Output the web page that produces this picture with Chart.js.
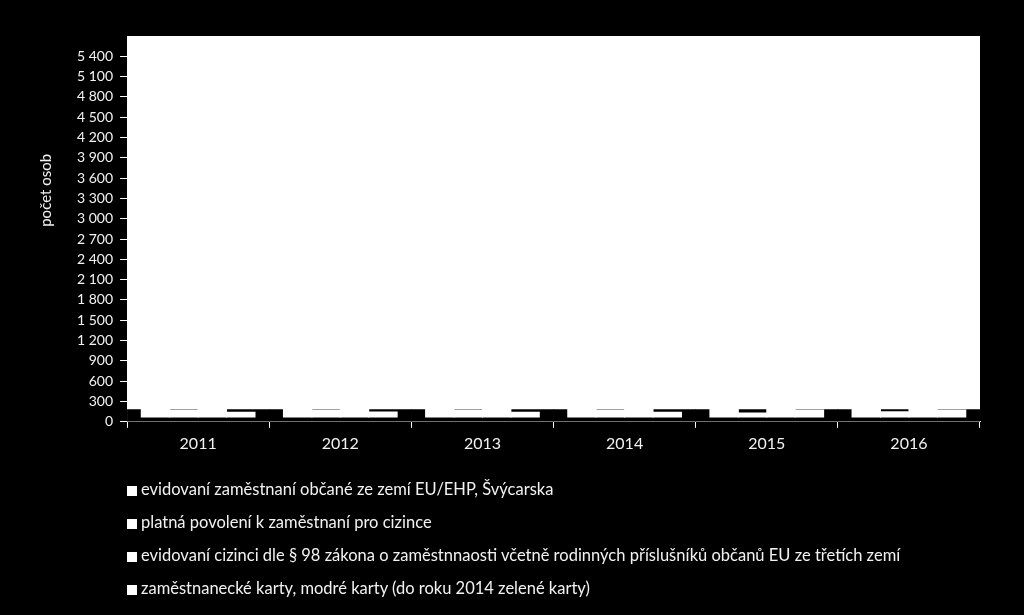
<!DOCTYPE html>
<html lang="cs">
<head>
<meta charset="utf-8">
<title>počet osob</title>
<script src="https://cdn.jsdelivr.net/npm/chart.js@4/dist/chart.umd.min.js"></script>
<style>
  html, body { margin: 0; padding: 0; background: #000; }
  #wrap { position: relative; width: 1024px; height: 615px; background: #000; overflow: hidden; }
  #wrap canvas { position: absolute; left: 0; top: 0; }
  #legend { position: absolute; left: 127px; top: 476px; margin: 0; padding: 0; list-style: none;
            font-family: Lato, "Open Sans", sans-serif; font-size: 16.5px; color: #f2f2f2; }
  #legend li { height: 33px; line-height: 26px; white-space: nowrap; }
  #legend span { display: inline-block; width: 10px; height: 10px; background: #fff; margin-right: 4px; vertical-align: -1px; }
</style>
</head>
<body>
<div id="wrap">
  <canvas id="chart" width="1024" height="615"></canvas>
  <ul id="legend"></ul>
</div>
<script>
// kategorie (roky)
const years = ['2011', '2012', '2013', '2014', '2015', '2016'];

// nazvy rad
const seriesNames = [
  'evidovaní zaměstnaní občané ze zemí EU/EHP, Švýcarska',
  'platná povolení k zaměstnaní pro cizince',
  'evidovaní cizinci dle § 98 zákona o zaměstnnaosti včetně rodinných příslušníků občanů EU ze třetích zemí',
  'zaměstnanecké karty, modré karty (do roku 2014 zelené karty)'
];

// hodnoty (spodni cast grafu)
const floorVals = [180, 180, 180, 180, 180, 180];
const barBase = [70, 70, 70, 70, 70, 70];
const euVals = [200, 200, 200, 200, 200, 200];
const permitVals = [176, 174, 176, 176, 130, 147];
const par98Vals = [200, 200, 200, 200, 200, 200];
const cardVals = [140, 143, 140, 140, 176, 176];

// osa y
const yMax = 5700;
const yStep = 300;
const yLastLabel = 5400;
const yTitle = 'počet osob';

function fmt(v) {
  return String(v).replace(/\B(?=(\d{3})+(?!\d))/g, ' ');
}

// bile pozadi plochy grafu + popisek osy y (v originale je posunuty nahoru)
const plotBg = {
  id: 'plotBg',
  beforeDraw(chart) {
    const a = chart.chartArea;
    const ctx = chart.ctx;
    ctx.save();
    ctx.fillStyle = '#fff';
    ctx.fillRect(a.left, a.top, a.right - a.left, a.bottom - a.top);
    ctx.restore();
  },
  afterDraw(chart) {
    const a = chart.chartArea;
    const ctx = chart.ctx;
    ctx.save();
    ctx.translate(46, a.top + (a.bottom - a.top) * 0.4);
    ctx.rotate(-Math.PI / 2);
    ctx.fillStyle = '#f2f2f2';
    ctx.font = '15px Lato, "Open Sans", sans-serif';
    ctx.textAlign = 'center';
    ctx.textBaseline = 'middle';
    ctx.fillText(yTitle, 0, 0);
    ctx.restore();
  }
};

const seriesVals = [euVals, permitVals, par98Vals, cardVals];

const datasets = seriesVals.map((vals, i) => ({
  label: seriesNames[i],
  data: vals.map((v, j) => [barBase[j], v]),
  backgroundColor: '#fff',
  borderWidth: 0,
  categoryPercentage: 0.8,
  barPercentage: 1,
  inflateAmount: 0.5,
  order: 0
}));

datasets.push({
  label: 'floor',
  data: floorVals,
  backgroundColor: '#000',
  borderWidth: 0,
  grouped: false,
  categoryPercentage: 1,
  barPercentage: 1,
  order: 10
});

Chart.defaults.font.family = 'Lato, "Open Sans", sans-serif';
Chart.defaults.color = '#f2f2f2';

new Chart(document.getElementById('chart'), {
  type: 'bar',
  data: { labels: years, datasets: datasets },
  options: {
    responsive: false,
    animation: false,
    devicePixelRatio: 1,
    layout: { padding: { left: 70, top: 36, right: 44, bottom: 156 } },
    plugins: {
      legend: { display: false },
      tooltip: { enabled: false }
    },
    scales: {
      x: {
        grid: { display: true, offset: true, drawOnChartArea: false, color: '#fff', tickLength: 6 },
        border: { display: true, color: '#fff', width: 1 },
        ticks: { color: '#f2f2f2', font: { size: 16 }, padding: 6 }
      },
      y: {
        min: 0,
        max: yMax,
        afterBuildTicks(scale) {
          scale.ticks = scale.ticks.filter(t => t.value <= yLastLabel);
        },
        grid: { display: true, drawOnChartArea: false, color: '#fff', tickLength: 7 },
        border: { display: true, color: '#fff', width: 1 },
        ticks: { stepSize: yStep, color: '#f2f2f2', font: { size: 14 }, padding: 7, callback: v => fmt(v) }
      }
    }
  },
  plugins: [plotBg]
});

// legenda pod grafem, kazda rada na vlastnim radku
const legend = document.getElementById('legend');
seriesNames.forEach(name => {
  const li = document.createElement('li');
  const box = document.createElement('span');
  li.appendChild(box);
  li.appendChild(document.createTextNode(name));
  legend.appendChild(li);
});
</script>
</body>
</html>
